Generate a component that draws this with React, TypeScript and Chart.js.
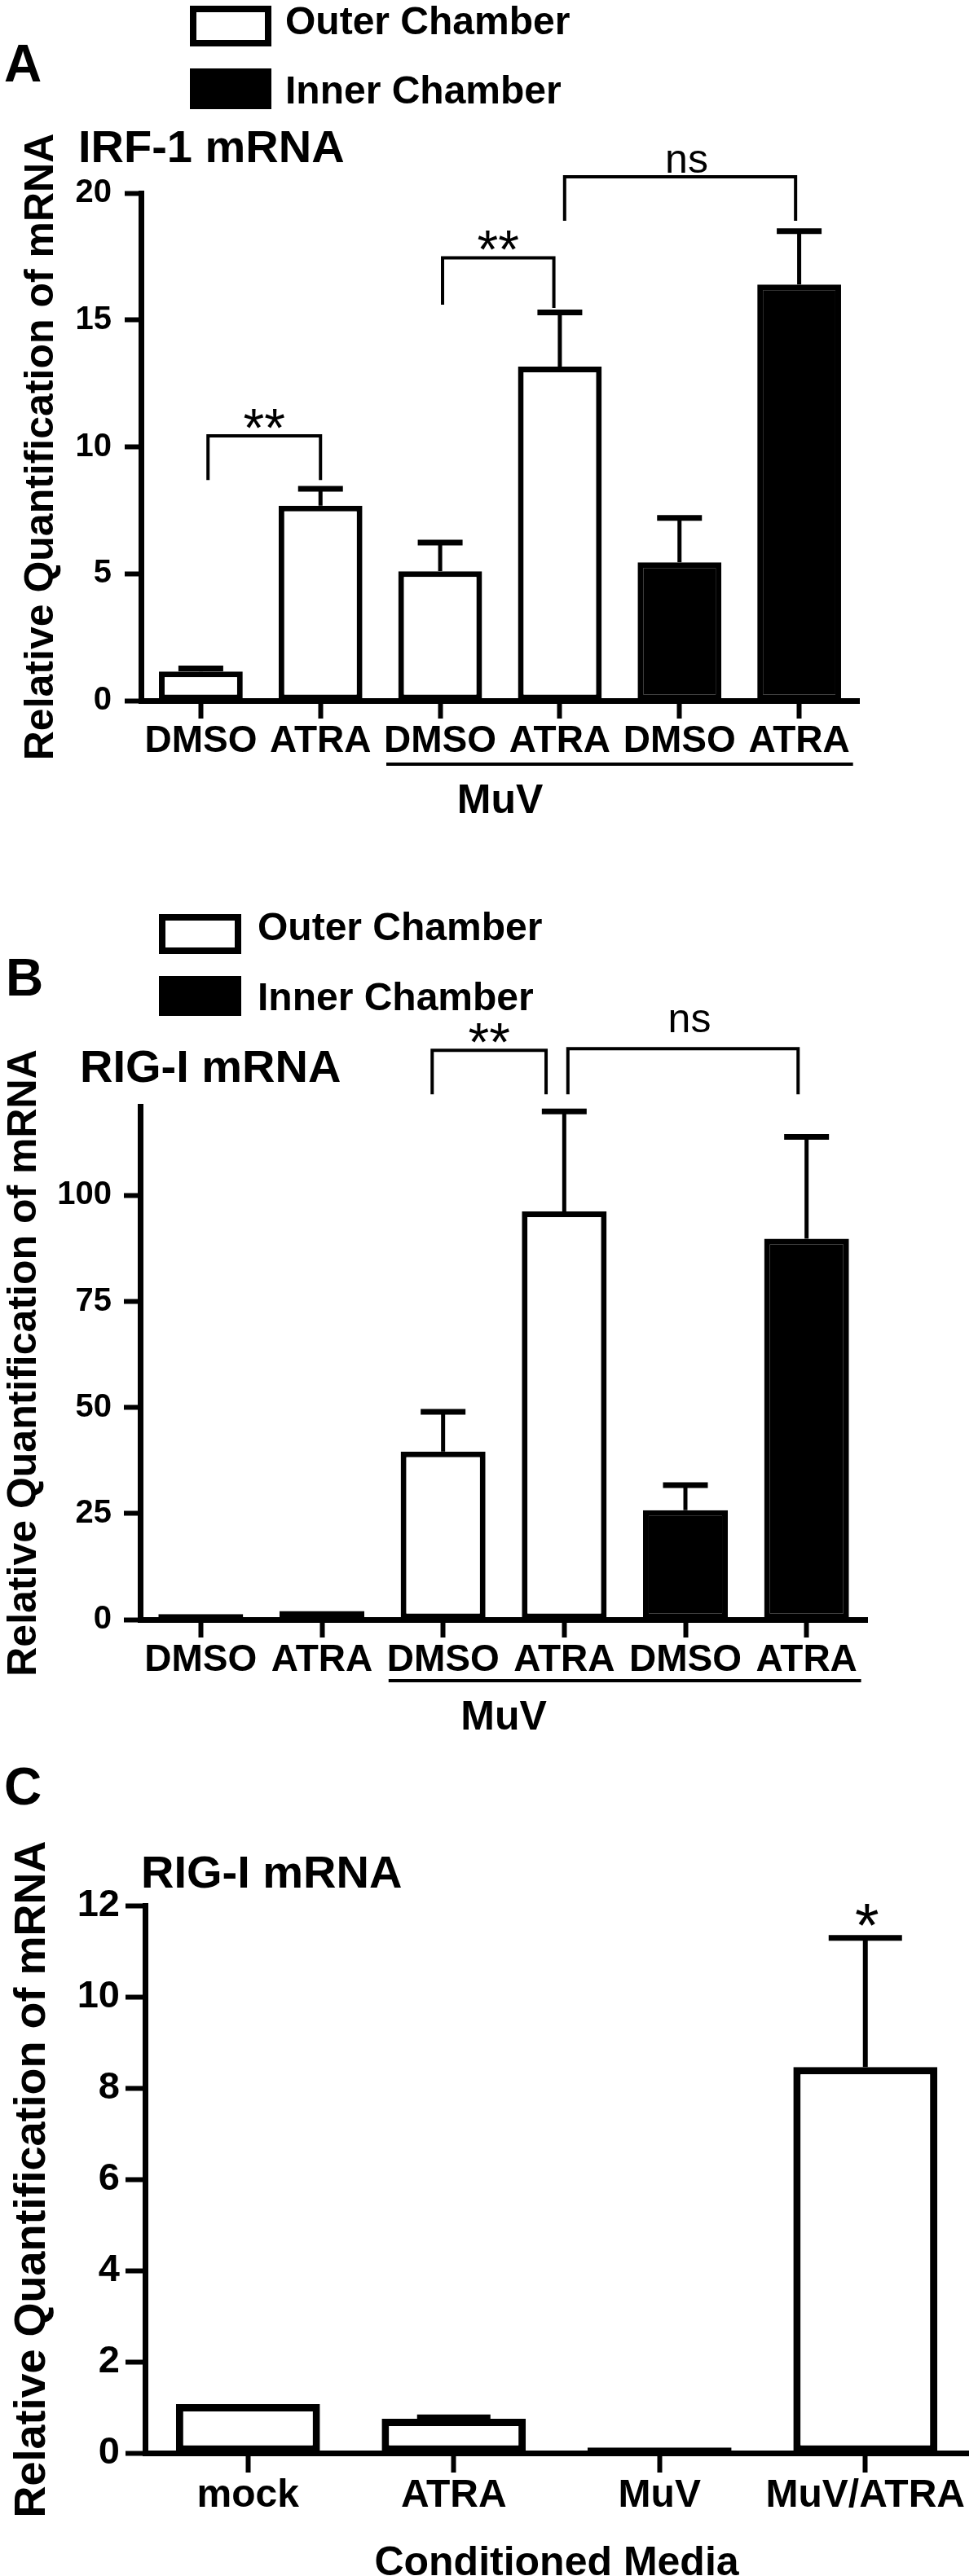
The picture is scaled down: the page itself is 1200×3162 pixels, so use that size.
import React, { useEffect, useRef } from 'react';
import { Chart, registerables } from 'chart.js';

Chart.register(...registerables);

const FONT = '"Liberation Sans", Arial, Helvetica, sans-serif';

// ---------- Panel A: IRF-1 mRNA ----------
const labelsA = ['DMSO', 'ATRA', 'DMSO', 'ATRA', 'DMSO', 'ATRA'];
const chamberA = ['outer', 'outer', 'outer', 'outer', 'inner', 'inner'];
const irf1Mean = [1.15, 7.68, 5.1, 13.16, 5.45, 16.4];
const irf1Err = [0.12, 0.67, 1.13, 2.14, 1.75, 2.1];
const ticksA = [0, 5, 10, 15, 20];
const bracketsA = [
  { from: 0.06, to: 1.0, top: 10.43, legFrom: 8.76, legTo: 8.76, text: '**' },
  { from: 2.02, to: 2.95, top: 17.45, legFrom: 15.67, legTo: 15.54, text: '**' },
  { from: 3.04, to: 4.97, top: 20.64, legFrom: 18.97, legTo: 18.97, text: 'ns' },
];

// ---------- Panel B: RIG-I mRNA (chambers) ----------
const labelsB = ['DMSO', 'ATRA', 'DMSO', 'ATRA', 'DMSO', 'ATRA'];
const chamberB = ['outer', 'outer', 'outer', 'outer', 'inner', 'inner'];
const rigMean = [1.3, 2.0, 39.6, 96.2, 25.8, 89.8];
const rigErr = [0, 0, 9.4, 23.6, 5.9, 24.0];
const ticksB = [0, 25, 50, 75, 100];
const bracketsB = [
  { from: 1.91, to: 2.85, top: 134.2, legFrom: 124.2, legTo: 124.2, text: '**' },
  { from: 3.03, to: 4.93, top: 134.6, legFrom: 124.2, legTo: 124.2, text: 'ns' },
];

// ---------- Panel C: RIG-I mRNA (conditioned media) ----------
const labelsC = ['mock', 'ATRA', 'MuV', 'MuV/ATRA'];
const chamberC = ['outer', 'outer', 'outer', 'outer'];
const rigCMean = [1.07, 0.75, 0.12, 8.46];
const rigCErr = [0, 0.03, 0, 2.83];
const ticksC = [0, 2, 4, 6, 8, 10, 12];
const starsC = [{ index: 3, text: '*' }];

const legendItems = ['Outer Chamber', 'Inner Chamber'];
const groupLabel = 'MuV';

type Bracket = { from: number; to: number; top: number; legFrom: number; legTo: number; text: string };

type PanelCfg = {
  key: string;
  canvasTop: number;
  height: number;
  left: number;
  right: number;
  top: number;
  bottom: number;
  max: number;
  ticks: number[];
  labels: string[];
  chamber: string[];
  means: number[];
  errs: number[];
  borderW: number;
  tickFont: number;
  xFont: number;
  xTickLen: number;
  yTickLen: number;
  yTickPad: number;
  xTickPad: number;
  yTitleFont: number;
  yTitlePad: number;
  errLineW: number;
  capLineW: number;
  capW: number;
  letter: string;
  letterPos: [number, number];
  title: string;
  titlePos: [number, number];
  legend?: { x: number; y1: number; y2: number; w: number; h: number; textX: number; t1: number; t2: number };
  brackets: Bracket[];
  nsGap: number;
  underline?: { from: number; to: number; dy: number; textDy: number; center: number };
  stars?: { index: number; text: string }[];
  xTitle?: { text: string; y: number };
};

function makeDecor(cfg: PanelCfg) {
  return {
    id: 'decor' + cfg.key,
    afterDatasetsDraw(chart: any) {
      const { ctx } = chart;
      const ys = chart.scales.y;
      const meta = chart.getDatasetMeta(0);
      ctx.save();
      ctx.strokeStyle = '#000';
      ctx.lineCap = 'butt';
      cfg.means.forEach((m, i) => {
        const e = cfg.errs[i];
        if (!e) return;
        const x = meta.data[i].x;
        const y0 = ys.getPixelForValue(m);
        const y1 = ys.getPixelForValue(m + e);
        ctx.lineWidth = cfg.errLineW;
        ctx.beginPath();
        ctx.moveTo(x, y0);
        ctx.lineTo(x, y1);
        ctx.stroke();
        ctx.lineWidth = cfg.capLineW;
        ctx.beginPath();
        ctx.moveTo(x - cfg.capW / 2, y1);
        ctx.lineTo(x + cfg.capW / 2, y1);
        ctx.stroke();
      });
      ctx.restore();
    },
    afterDraw(chart: any) {
      const { ctx } = chart;
      const xs = chart.scales.x;
      const ys = chart.scales.y;
      ctx.save();
      ctx.fillStyle = '#000';
      ctx.strokeStyle = '#000';

      // panel letter
      ctx.font = `bold 64px ${FONT}`;
      ctx.textAlign = 'left';
      ctx.textBaseline = 'alphabetic';
      ctx.fillText(cfg.letter, cfg.letterPos[0], cfg.letterPos[1]);

      // title
      ctx.font = `bold 56px ${FONT}`;
      ctx.fillText(cfg.title, cfg.titlePos[0], cfg.titlePos[1]);

      // legend
      if (cfg.legend) {
        const L = cfg.legend;
        ctx.lineWidth = 8;
        ctx.strokeRect(L.x + 4, L.y1 + 4, L.w - 8, L.h - 8);
        ctx.fillRect(L.x, L.y2, L.w, L.h);
        ctx.font = `bold 48px ${FONT}`;
        ctx.textBaseline = 'middle';
        ctx.fillText(legendItems[0], L.textX, L.t1);
        ctx.fillText(legendItems[1], L.textX, L.t2);
      }

      // significance brackets
      ctx.lineWidth = 4;
      ctx.lineCap = 'square';
      cfg.brackets.forEach((b) => {
        const x1 = xs.getPixelForValue(b.from);
        const x2 = xs.getPixelForValue(b.to);
        const yt = ys.getPixelForValue(b.top);
        ctx.beginPath();
        ctx.moveTo(x1, ys.getPixelForValue(b.legFrom));
        ctx.lineTo(x1, yt);
        ctx.lineTo(x2, yt);
        ctx.lineTo(x2, ys.getPixelForValue(b.legTo));
        ctx.stroke();
        ctx.textAlign = 'center';
        ctx.textBaseline = 'alphabetic';
        const cx = (x1 + x2) / 2;
        if (b.text === 'ns') {
          ctx.font = `normal 50px ${FONT}`;
          ctx.fillText(b.text, cx + 8, yt - cfg.nsGap);
        } else {
          ctx.font = `normal 66px ${FONT}`;
          ctx.fillText(b.text, cx, yt + 13);
        }
      });

      // stars above error bars
      (cfg.stars || []).forEach((s) => {
        const x = chart.getDatasetMeta(0).data[s.index].x;
        const yc = ys.getPixelForValue(cfg.means[s.index] + cfg.errs[s.index]);
        ctx.font = `normal 76px ${FONT}`;
        ctx.textAlign = 'center';
        ctx.textBaseline = 'alphabetic';
        ctx.fillText(s.text, x + 2, yc + 10);
      });

      // group underline
      if (cfg.underline) {
        const U = cfg.underline;
        const y0 = ys.getPixelForValue(0) + U.dy;
        ctx.lineWidth = 4;
        ctx.lineCap = 'butt';
        ctx.beginPath();
        ctx.moveTo(xs.getPixelForValue(U.from), y0);
        ctx.lineTo(xs.getPixelForValue(U.to), y0);
        ctx.stroke();
        ctx.font = `bold 50px ${FONT}`;
        ctx.textAlign = 'center';
        ctx.textBaseline = 'middle';
        ctx.fillText(groupLabel, xs.getPixelForValue(U.center), y0 + U.textDy);
      }

      // x axis title
      if (cfg.xTitle) {
        ctx.font = `bold 50px ${FONT}`;
        ctx.textAlign = 'center';
        ctx.textBaseline = 'middle';
        ctx.fillText(cfg.xTitle.text, (chart.chartArea.left + chart.chartArea.right) / 2, cfg.xTitle.y);
      }
      ctx.restore();
    },
  };
}

function buildConfig(cfg: PanelCfg): any {
  return {
    type: 'bar',
    data: {
      labels: cfg.labels,
      datasets: [
        {
          data: cfg.means,
          backgroundColor: cfg.chamber.map((c) => (c === 'inner' ? '#000' : '#fff')),
          borderColor: '#000',
          borderWidth: cfg.borderW,
          borderSkipped: false,
          barPercentage: 0.7,
          categoryPercentage: 1.0,
        },
      ],
    },
    options: {
      responsive: false,
      animation: false,
      devicePixelRatio: 1,
      events: [],
      layout: {
        autoPadding: false,
        padding: { left: 0, right: 1200 - cfg.right, top: cfg.top, bottom: 0 },
      },
      plugins: {
        legend: { display: false },
        tooltip: { enabled: false },
        title: { display: false },
      },
      scales: {
        x: {
          type: 'category',
          offset: true,
          grid: {
            display: true,
            drawOnChartArea: false,
            drawTicks: true,
            tickLength: cfg.xTickLen,
            tickWidth: 6,
            tickColor: '#000',
            offset: false,
          },
          border: { display: true, color: '#000', width: 7 },
          ticks: {
            color: '#000',
            font: { family: FONT, size: cfg.xFont, weight: 'bold' },
            padding: cfg.xTickPad,
            maxRotation: 0,
            minRotation: 0,
            autoSkip: false,
          },
          afterFit: (s: any) => {
            s.height = cfg.height - cfg.bottom;
          },
        },
        y: {
          type: 'linear',
          min: 0,
          max: cfg.max,
          afterBuildTicks: (s: any) => {
            s.ticks = cfg.ticks.map((v) => ({ value: v }));
          },
          grid: {
            display: true,
            drawOnChartArea: false,
            drawTicks: true,
            tickLength: cfg.yTickLen,
            tickWidth: 6,
            tickColor: '#000',
          },
          border: { display: true, color: '#000', width: 7 },
          ticks: {
            color: '#000',
            font: { family: FONT, size: cfg.tickFont, weight: 'bold' },
            padding: cfg.yTickPad,
          },
          title: {
            display: true,
            text: 'Relative Quantification of mRNA',
            color: '#000',
            font: { family: FONT, size: cfg.yTitleFont, weight: 'bold' },
            padding: { top: cfg.yTitlePad, bottom: 0 },
          },
          afterFit: (s: any) => {
            s.width = cfg.left;
          },
        },
      },
    },
    plugins: [makeDecor(cfg)],
  };
}

const panelA: PanelCfg = {
  key: 'A', canvasTop: 0, height: 1050, left: 173, right: 1054, top: 237, bottom: 860,
  max: 20, ticks: ticksA, labels: labelsA, chamber: chamberA, means: irf1Mean, errs: irf1Err,
  borderW: 7, tickFont: 40, xFont: 46, xTickLen: 22, yTickLen: 20, yTickPad: 16, xTickPad: 1,
  yTitleFont: 50, yTitlePad: 21, errLineW: 5, capLineW: 7, capW: 55,
  letter: 'A', letterPos: [5, 100], title: 'IRF-1 mRNA', titlePos: [96, 199],
  legend: { x: 233, y1: 7, y2: 84, w: 100, h: 50, textX: 350, t1: 29, t2: 114 },
  brackets: bracketsA, nsGap: 5,
  underline: { from: 1.55, to: 5.45, dy: 78, textDy: 46, center: 2.5 },
};

const panelB: PanelCfg = {
  key: 'B', canvasTop: 1050, height: 1080, left: 172, right: 1064, top: 308, bottom: 938,
  max: 121, ticks: ticksB, labels: labelsB, chamber: chamberB, means: rigMean, errs: rigErr,
  borderW: 7, tickFont: 40, xFont: 46, xTickLen: 22, yTickLen: 20, yTickPad: 15, xTickPad: 1,
  yTitleFont: 50, yTitlePad: 0, errLineW: 5, capLineW: 7, capW: 55,
  letter: 'B', letterPos: [7, 172], title: 'RIG-I mRNA', titlePos: [98, 278],
  legend: { x: 195, y1: 72, y2: 148, w: 101, h: 49, textX: 316, t1: 91, t2: 177 },
  brackets: bracketsB, nsGap: 20,
  underline: { from: 1.55, to: 5.45, dy: 75, textDy: 46, center: 2.5 },
};

const panelC: PanelCfg = {
  key: 'C', canvasTop: 2130, height: 1032, left: 178, right: 1188, top: 209, bottom: 881,
  max: 12, ticks: ticksC, labels: labelsC, chamber: chamberC, means: rigCMean, errs: rigCErr,
  borderW: 9, tickFont: 47, xFont: 48, xTickLen: 24, yTickLen: 24, yTickPad: 7, xTickPad: 0,
  yTitleFont: 54, yTitlePad: 8, errLineW: 6, capLineW: 7, capW: 90,
  letter: 'C', letterPos: [5, 85], title: 'RIG-I mRNA', titlePos: [173, 187],
  brackets: [], nsGap: 0, stars: starsC,
  xTitle: { text: 'Conditioned Media', y: 1017 },
};

function Panel({ cfg }: { cfg: PanelCfg }) {
  const ref = useRef<HTMLCanvasElement | null>(null);
  useEffect(() => {
    if (!ref.current) return;
    const chart = new Chart(ref.current, buildConfig(cfg));
    return () => chart.destroy();
  }, [cfg]);
  return (
    <canvas
      ref={ref}
      width={1200}
      height={cfg.height}
      style={{ position: 'absolute', left: 0, top: cfg.canvasTop, width: 1200, height: cfg.height, display: 'block' }}
    />
  );
}

export default function App() {
  return (
    <div style={{ position: 'absolute', left: 0, top: 0, width: 1200, height: 3162, background: '#fff', overflow: 'hidden' }}>
      <Panel cfg={panelA} />
      <Panel cfg={panelB} />
      <Panel cfg={panelC} />
    </div>
  );
}
